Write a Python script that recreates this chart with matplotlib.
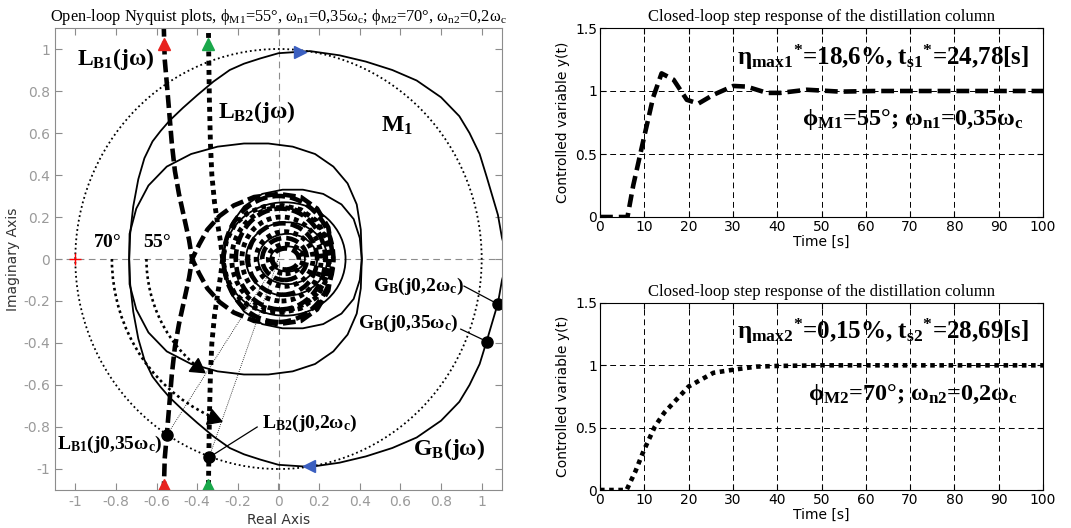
import numpy as np
import matplotlib.pyplot as plt
from matplotlib.patches import Circle, Arc, Ellipse

plt.rcParams['mathtext.fontset'] = 'custom'
plt.rcParams['mathtext.rm'] = 'Liberation Serif'
plt.rcParams['mathtext.it'] = 'Liberation Serif:italic'
plt.rcParams['mathtext.bf'] = 'Liberation Serif:bold'
plt.rcParams['mathtext.default'] = 'rm'

# ---- Nyquist data, omega > 0 branch (omega < 0 is the mirror image) ----
gb_re = [1.13, 1.10, 1.08, 1.025, 0.99, 0.94, 0.89, 0.80, 0.68, 0.56, 0.43, 0.30, 0.155,
         0.0, -0.09, -0.17, -0.24, -0.32, -0.40, -0.47, -0.535, -0.58, -0.62, -0.66,
         -0.69, -0.715, -0.73, -0.735,
         -0.733, -0.70, -0.64, -0.55, -0.43, -0.30, -0.17, -0.05, 0.07, 0.18, 0.27,
         0.34, 0.385, 0.405, 0.41,
         0.40, 0.37, 0.31, 0.22, 0.12, 0.02, -0.08, -0.17, -0.23, -0.265, -0.27]
gb_im = [0.0, -0.10, -0.21, -0.39, -0.50, -0.60, -0.68, -0.77, -0.85, -0.90, -0.94, -0.97, -0.99,
         -0.98, -0.955, -0.93, -0.90, -0.845, -0.78, -0.72, -0.66, -0.61, -0.56, -0.48,
         -0.38, -0.25, -0.12, 0.0,
         0.12, 0.24, 0.35, 0.44, 0.50, 0.535, 0.55, 0.55, 0.535, 0.50, 0.44,
         0.36, 0.26, 0.14, 0.0,
         -0.10, -0.19, -0.26, -0.31, -0.33, -0.33, -0.31, -0.25, -0.17, -0.08, 0.0]
# inner turns of the spirals: left / right real-axis crossing, half height
gb_in_left = [-0.27, -0.16, -0.10, -0.04]
gb_in_right = [0.33, 0.24, 0.19, 0.13]
gb_in_half = [0.27, 0.175, 0.12, 0.06]

lb1_re = [-0.565, -0.56, -0.55, -0.537, -0.525, -0.51, -0.49, -0.465, -0.44, -0.425,
          -0.39, -0.35, -0.29, -0.22, -0.12, 0.0, 0.11, 0.19, 0.245, 0.27]
lb1_im = [-1.12, -0.95, -0.84, -0.69, -0.55, -0.42, -0.31, -0.20, -0.09, 0.0,
          0.07, 0.14, 0.205, 0.255, 0.295, 0.31, 0.295, 0.24, 0.15, 0.0]
lb1_in_left = [-0.27, -0.21, -0.15, -0.08, -0.03]
lb1_in_right = [0.27, 0.23, 0.19, 0.14, 0.10]
lb1_in_half = [0.30, 0.24, 0.17, 0.10, 0.05]

lb2_re = [-0.345, -0.343, -0.34, -0.335, -0.328, -0.315, -0.30, -0.285, -0.275,
          -0.255, -0.215, -0.15, -0.07, 0.02, 0.11, 0.19, 0.235, 0.25]
lb2_im = [-1.12, -0.945, -0.75, -0.55, -0.40, -0.27, -0.17, -0.08, 0.0,
          0.09, 0.165, 0.22, 0.25, 0.255, 0.235, 0.18, 0.10, 0.0]
lb2_in_left = [-0.23, -0.18, -0.11, -0.05]
lb2_in_right = [0.25, 0.21, 0.17, 0.12]
lb2_in_half = [0.245, 0.20, 0.13, 0.07]

# marked frequency points
lb_pt_re = [-0.55, -0.342]
lb_pt_im = [-0.84, -0.945]
gb_pt_re = [1.082, 1.028]
gb_pt_im = [-0.216, -0.394]

# phase margin arcs
pm_radius = [0.82, 0.65]
pm_angle = [70, 55]

# ---- step responses ----
t1 = [0, 6.2, 7.5, 9.8, 12, 13.9, 16.6, 19.6, 22.2, 25.6, 30.1, 33.1, 37.7, 40.7,
      46.7, 54.2, 61.7, 70, 100]
y1 = [0, 0, 0.25, 0.61, 0.95, 1.14, 1.09, 0.93, 0.90, 0.97, 1.04, 1.035, 0.985, 0.985,
      1.01, 0.995, 1.0, 1.0, 1.0]
t2 = [0, 6.0, 8.0, 9.8, 12.4, 14.5, 16.6, 20, 25.6, 30.1, 35.4, 39.9, 50, 100]
y2 = [0, 0, 0.15, 0.31, 0.51, 0.62, 0.70, 0.83, 0.94, 0.965, 0.99, 0.995, 1.0, 1.0]

GRAY = '#8c8c8c'


def mirrored(ax, x, y, **kw):
    ax.plot(x, y, **kw)
    ax.plot(x, [-v for v in y], **kw)


def rings(ax, left, right, half, **kw):
    for l, r, h in zip(left, right, half):
        ax.add_patch(Ellipse(((l + r) / 2, 0), r - l, 2 * h, fill=False, **kw))


fig = plt.figure(figsize=(10.71, 5.28), dpi=100)

# ================= Nyquist plot =================
ax = fig.add_axes([55 / 1071, 38 / 528, 447 / 1071, 462 / 528])
ax.set_xlim(-1.1, 1.1)
ax.set_ylim(-1.1, 1.1)
ax.axhline(0, color=GRAY, lw=0.8, ls=(0, (6, 4)), zorder=0)
ax.axvline(0, color=GRAY, lw=0.8, ls=(0, (6, 4)), zorder=0)

ax.add_patch(Circle((0, 0), 1.0, fill=False, color='k', lw=1.3, ls=(0, (1, 1.6))))
for r, a in zip(pm_radius, pm_angle):
    ax.add_patch(Arc((0, 0), 2 * r, 2 * r, theta1=180, theta2=180 + a, color='k',
                     lw=1.9, ls=(0, (1, 1.2))))
    th = np.deg2rad(180 + a - 3)
    ax.plot(r * np.cos(th), r * np.sin(th), marker=(3, 0, 180 + a), ms=13, color='k')
for xr, yi in zip(lb_pt_re, lb_pt_im):
    ax.plot([0, xr], [0, yi], color='k', lw=0.6, ls=(0, (1, 1.5)))

mirrored(ax, gb_re, gb_im, color='k', lw=1.3)
rings(ax, gb_in_left, gb_in_right, gb_in_half, color='k', lw=1.3)
mirrored(ax, lb1_re, lb1_im, color='k', lw=3.3, ls=(0, (2.8, 1.1)))
rings(ax, lb1_in_left, lb1_in_right, lb1_in_half, color='k', lw=3.3, ls=(0, (2.8, 1.1)))
mirrored(ax, lb2_re, lb2_im, color='k', lw=3.5, ls=(0, (1, 0.9)))
rings(ax, lb2_in_left, lb2_in_right, lb2_in_half, color='k', lw=3.5, ls=(0, (1, 0.9)))

ax.plot(lb_pt_re + gb_pt_re, lb_pt_im + gb_pt_im, 'o', color='k', ms=8, ls='none')
ax.plot([-1], [0], '+', color='r', ms=8, mew=1)
ax.plot([lb1_re[0]] * 2, [1.025, -1.075], '^', color='#e8231f', ms=9, ls='none')
ax.plot([lb2_re[0]] * 2, [1.025, -1.075], '^', color='#19a84a', ms=9, ls='none')
ax.plot(0.105, 0.985, '>', color='#3b5fc0', ms=9)
ax.plot(0.15, -0.985, '<', color='#3b5fc0', ms=9)

# leader lines
ax.plot([lb_pt_re[1], -0.105], [lb_pt_im[1], -0.80], color='k', lw=0.9)
ax.plot([gb_pt_re[0], 0.913], [gb_pt_im[0], -0.129], color='k', lw=0.9)
ax.plot([gb_pt_re[1], 0.897], [gb_pt_im[1], -0.334], color='k', lw=0.9)

big = dict(fontsize=17, ha='center', va='center')
mid = dict(fontsize=14, ha='center', va='center')
ax.text(-0.80, 0.95, r'$\mathbf{L_{B1}(j\omega)}$', **big)
ax.text(-0.105, 0.70, r'$\mathbf{L_{B2}(j\omega)}$', **big)
ax.text(0.585, 0.64, r'$\mathbf{M_{1}}$', **big)
ax.text(0.84, -0.905, r'$\mathbf{G_{B}(j\omega)}$', **big)
ax.text(-0.845, 0.085, r'$\mathbf{70°}$', **mid)
ax.text(-0.598, 0.085, r'$\mathbf{55°}$', **mid)
ax.text(-0.83, -0.885, r'$\mathbf{L_{B1}(j0{,}35\omega_c)}$', **mid)
ax.text(0.154, -0.783, r'$\mathbf{L_{B2}(j0{,}2\omega_c)}$', **mid)
ax.text(0.69, -0.132, r'$\mathbf{G_{B}(j0{,}2\omega_c)}$', **mid)
ax.text(0.64, -0.306, r'$\mathbf{G_{B}(j0{,}35\omega_c)}$', **mid)

ticks = np.arange(-1, 1.01, 0.2)
tick_text = ['-1', '-0.8', '-0.6', '-0.4', '-0.2', '0', '0.2', '0.4', '0.6', '0.8', '1']
ax.set_xticks(ticks)
ax.set_yticks(ticks)
ax.set_xticklabels(tick_text)
ax.set_yticklabels(tick_text)
ax.tick_params(direction='in', top=True, right=True, length=5, color=GRAY,
               labelcolor='#9a9a9a', labelsize=10)
for s in ax.spines.values():
    s.set_color(GRAY)
ax.set_xlabel('Real Axis', fontsize=10, color='#333333', labelpad=3)
ax.set_ylabel('Imaginary Axis', fontsize=10, color='#333333', labelpad=2)
ax.set_title(r'Open-loop Nyquist plots, $\phi_{M1}$=55°, $\omega_{n1}$=0,35$\omega_c$; '
             r'$\phi_{M2}$=70°, $\omega_{n2}$=0,2$\omega_c$',
             fontsize=11.8, family='Liberation Serif', pad=5)

# ================= step responses =================
step_axes = [fig.add_axes([600 / 1071, 311 / 528, 443 / 1071, 189 / 528]),
             fig.add_axes([600 / 1071, 38 / 528, 443 / 1071, 187 / 528])]
series = [(t1, y1, (0, (2.8, 1.3))), (t2, y2, (0, (1, 1.0)))]
notes = [(r'$\mathbf{\eta_{max1}{}^{*}}$=18,6%, $\mathbf{t_{s1}{}^{*}}$=24,78[s]',
          r'$\mathbf{\phi_{M1}}$=55°; $\mathbf{\omega_{n1}}$=0,35$\mathbf{\omega_c}$'),
         (r'$\mathbf{\eta_{max2}{}^{*}}$=0,15%, $\mathbf{t_{s2}{}^{*}}$=28,69[s]',
          r'$\mathbf{\phi_{M2}}$=70°; $\mathbf{\omega_{n2}}$=0,2$\mathbf{\omega_c}$')]
for a, (t, y, st), (n1, n2) in zip(step_axes, series, notes):
    a.plot(t, y, color='k', lw=3.3, ls=st)
    a.set_xlim(0, 100)
    a.set_ylim(0, 1.5)
    a.set_xticks(np.arange(0, 101, 10))
    a.set_yticks([0, 0.5, 1, 1.5])
    a.set_yticklabels(['0', '0.5', '1', '1.5'])
    a.grid(True, color='k', lw=0.7, ls=(0, (6, 4)))
    a.tick_params(direction='in', top=True, right=True, length=4, labelsize=10, pad=2)
    a.set_xlabel('Time [s]', fontsize=10, labelpad=1)
    a.set_ylabel('Controlled variable y(t)', fontsize=10, labelpad=4)
    a.set_title('Closed-loop step response of the distillation column', fontsize=12,
                family='Liberation Serif', pad=5)
    a.text(64, 1.27, n1, fontsize=18, ha='center', va='center',
           family='Liberation Serif', fontweight='bold')
    a.text(70.7, 0.77, n2, fontsize=17.5, ha='center', va='center',
           family='Liberation Serif', fontweight='bold')

fig.savefig('out.png', dpi=100)
